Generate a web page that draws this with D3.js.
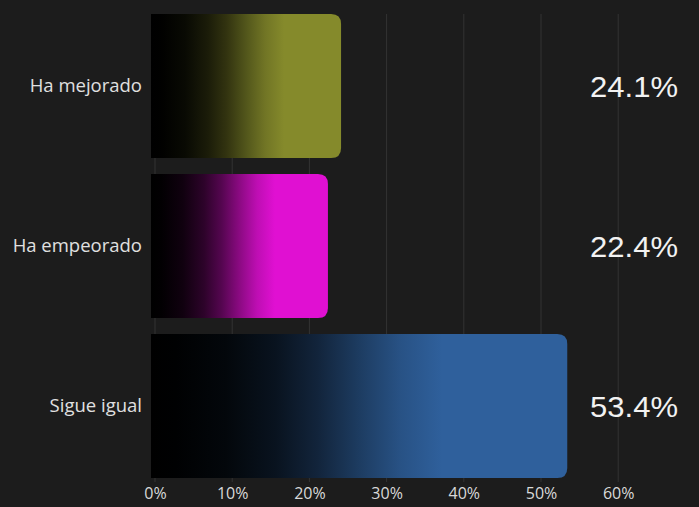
<!DOCTYPE html>
<html><head><meta charset="utf-8">
<script src="https://cdn.jsdelivr.net/npm/d3@7"></script>
<style>
html,body{margin:0;padding:0;background:#1c1c1c;}
svg{display:block;}
</style></head>
<body>
<svg id="chart" width="699" height="507"></svg>
<script>
const categories = ["Ha mejorado", "Ha empeorado", "Sigue igual"];
const values = [24.1, 22.4, 53.4];
const colors = ["#858a2b", "#e010d2", "#2f609c"];
const tickValues = [0, 10, 20, 30, 40, 50, 60];

const W = 699, H = 507;
const svg = d3.select("#chart");
svg.append("rect").attr("width", W).attr("height", H).attr("fill", "#1c1c1c");

const x = d3.scaleLinear().domain([0, 60]).range([155, 618.2]);
const y = d3.scaleBand().domain(categories).range([6, 486]).paddingInner(0.1).paddingOuter(0.05);

const defs = svg.append("defs");
categories.forEach((c, i) => {
  const g = defs.append("linearGradient").attr("id", "g" + i)
    .attr("x1", "0%").attr("x2", "100%").attr("y1", "0%").attr("y2", "0%");
  const mix = t => d3.interpolateRgb("#000000", colors[i])(t);
  [[0, 0], [0.06, 0.01], [0.18, 0.07], [0.3, 0.2], [0.4, 0.38], [0.5, 0.62], [0.6, 0.85], [0.7, 1], [1, 1]].forEach(([o, t]) => {
    g.append("stop").attr("offset", o).attr("stop-color", mix(t));
  });
});

// grid lines
const gridTop = y(categories[0]);
const gridBottom = y(categories[2]) + y.bandwidth() + 4;
svg.append("g").selectAll("line").data(tickValues).join("line")
  .attr("x1", d => x(d)).attr("x2", d => x(d))
  .attr("y1", gridTop).attr("y2", gridBottom)
  .attr("stroke", "#333333").attr("stroke-width", 1);

// bars (rounded on right only)
const r = 10;
const x0 = x(0) - 4;
function barPath(d, i) {
  const yy = y(categories[i]), h = y.bandwidth(), xe = x(d);
  return `M${x0},${yy} H${xe - r} Q${xe},${yy} ${xe},${yy + r} V${yy + h - r} Q${xe},${yy + h} ${xe - r},${yy + h} H${x0} Z`;
}
svg.append("g").selectAll("path").data(values).join("path")
  .attr("d", (d, i) => barPath(d, i))
  .attr("fill", (d, i) => `url(#g${i})`);

// x axis
const xAxis = d3.axisBottom(x).tickValues(tickValues).tickFormat(d => d + "%").tickSize(0);
const gx = svg.append("g").attr("transform", "translate(0,486)").call(xAxis);
gx.select(".domain").remove();
gx.selectAll("text").attr("fill", "#d9d9d9").attr("font-family", "Open Sans, sans-serif")
  .attr("font-size", 16).attr("dy", "0.71em").attr("y", 2);

// y axis
const yAxis = d3.axisLeft(y).tickSize(0).tickPadding(0);
const gy = svg.append("g").attr("transform", "translate(142,0)").call(yAxis);
gy.select(".domain").remove();
gy.selectAll("text").attr("fill", "#e0e0e0").attr("font-family", "Open Sans, sans-serif")
  .attr("font-size", 18.5);

// value labels
svg.append("g").selectAll("text").data(values).join("text")
  .attr("x", 678)
  .attr("y", (d, i) => y(categories[i]) + y.bandwidth() / 2)
  .attr("text-anchor", "end").attr("dominant-baseline", "central")
  .attr("fill", "#f2f2f2").attr("font-family", "Liberation Sans, Arial, sans-serif")
  .attr("font-size", 30)
  .attr("textLength", 88).attr("lengthAdjust", "spacingAndGlyphs")
  .text(d => d.toFixed(1) + "%");
</script>
</body></html>
